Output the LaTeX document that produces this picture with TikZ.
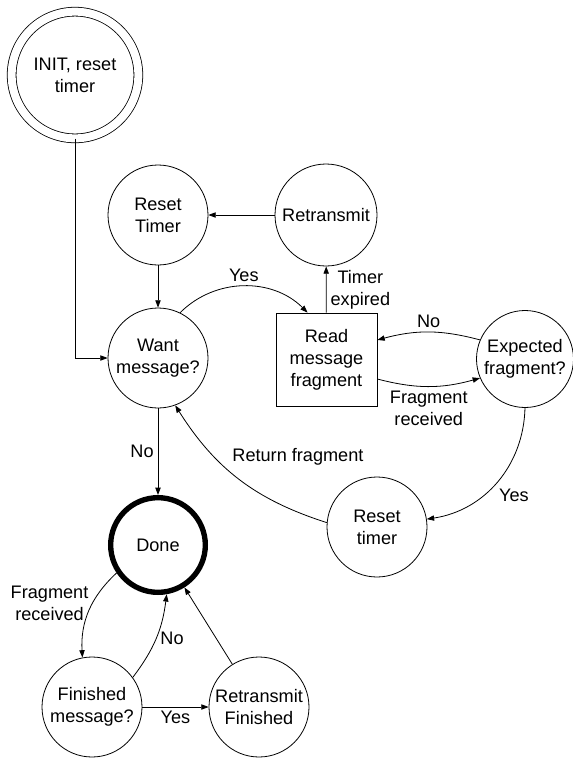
\documentclass[tikz,border=0pt]{standalone}
\usepackage{fontspec}
\setmainfont{Liberation Sans}
\usetikzlibrary{arrows.meta}

\begin{document}
\begin{tikzpicture}[
    x=0.75pt, y=0.75pt,
    font=\fontsize{13.6}{16.5}\selectfont,
    circ/.style={draw, circle, line width=0.6pt, align=center, inner sep=0pt, minimum size=75pt},
    startnode/.style={circ, double, double distance=6pt, minimum size=95pt},
    donenode/.style={circ, line width=4pt, minimum size=71pt},
    box/.style={draw, rectangle, line width=0.6pt, align=center, minimum width=75.75pt, minimum height=69.75pt, inner sep=0pt},
    arrow/.style={-{Triangle[length=5.5pt, width=4pt]}, line width=0.6pt},
    lbl/.style={align=center, inner sep=3pt}
]
\useasboundingbox (0,0) rectangle (573,-758);

% Nodes
\node (init) [startnode] at (75,-75) {INIT, reset\\timer};
\node (reset1) [circ] at (158,-215) {Reset\\Timer};
\node (retx) [circ, minimum size=76.5pt] at (326,-215) {Retransmit};
\node (want) [circ] at (158,-358) {Want\\message?};
\node (read) [box] at (326.5,-359.5) {Read\\message\\fragment};
\node (expt) [circ, minimum size=72.75pt] at (525,-359) {Expected\\fragment?};
\node (reset2) [circ] at (377,-527) {Reset\\timer};
\node (done) [donenode] at (158,-545) {Done};
\node (fin) [circ] at (92,-707) {Finished\\message?};
\node (rfin) [circ] at (259,-707) {Retransmit\\Finished};

% Arrows
\draw[arrow] (init) |- (want);
\draw[arrow] (reset1) -- (want);
\draw[arrow] (retx) -- (reset1);
\draw[arrow] (read) -- node[lbl, right] {Timer\\expired} (retx);
\draw[arrow] (want.64) to[bend left=45] node[lbl, above] {Yes} (read.112);
\draw[arrow] (expt.157) to[bend right=15] node[lbl, above] {No} (read.21);
\draw[arrow] (read.-21) to[bend right=15] node[lbl, below] {Fragment\\received} (expt.203);
\draw[arrow] (expt.south) to[bend left=40] node[lbl, below right, pos=0.52] {Yes} (reset2.9);
\draw[arrow] (reset2.175) to[bend left=20] node[lbl, above right, pos=0.58] {Return fragment} (want.-70);
\draw[arrow] (want) -- node[lbl, left] {No} (done);
\draw[arrow] (done.214) to[bend right=25] node[lbl, left, pos=0.4] {Fragment\\received} (fin.101);
\draw[arrow] (fin.36) to[bend right=15] node[lbl, right] {No} (done.-80);
\draw[arrow] (fin) -- node[lbl, below] {Yes} (rfin);
\draw[arrow] (rfin) -- (done);

\end{tikzpicture}
\end{document}
